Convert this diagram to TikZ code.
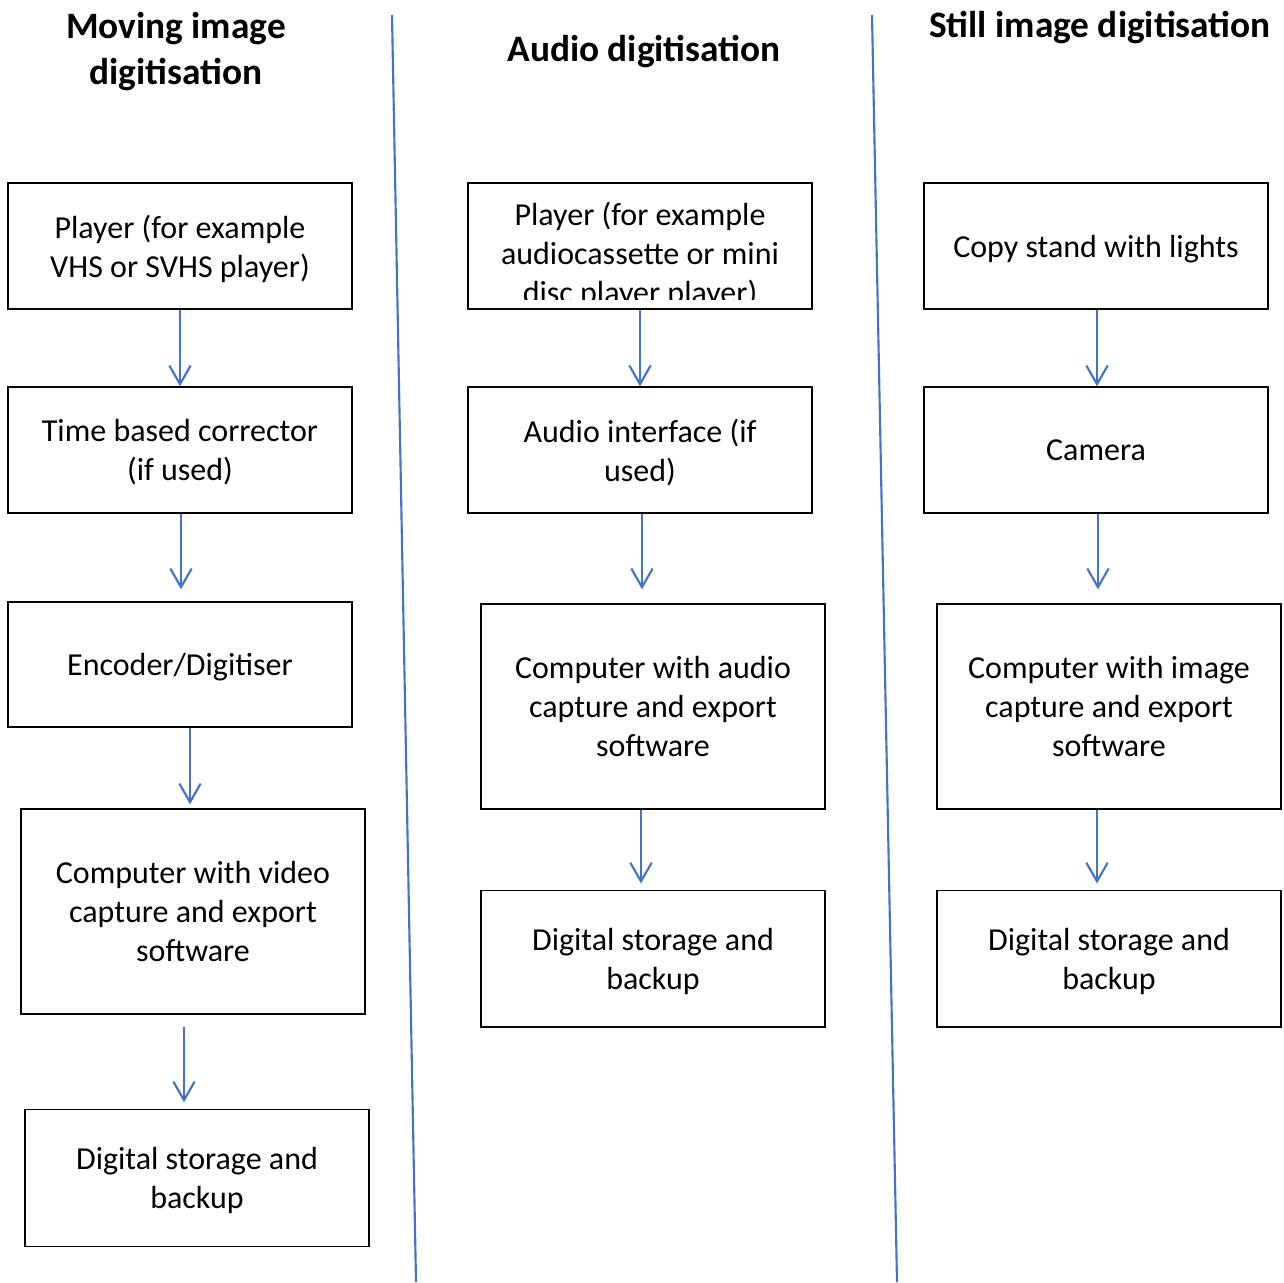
\documentclass[tikz,border=0pt]{standalone}
\usepackage{fontspec}
\setmainfont{Carlito}
\usepackage{xcolor}
\definecolor{flow-blue}{HTML}{4472C4}
\usepackage{tikz}
\usetikzlibrary{
  arrows.meta,
  positioning,
  calc
}

\begin{document}
\begin{tikzpicture}[
    x=0.75pt, y=-0.75pt,
    stage/.style={
      rectangle,
      draw=black,
      line width=1pt,
      minimum width=258pt,
      minimum height=94.5pt,
      inner sep=0pt,
      text depth=0pt,
      font=\fontsize{24}{29.25}\selectfont,
      text=black,
      align=center
    },
    tall/.style={minimum height=153.75pt},
    low/.style={minimum height=102.5pt},
    heading/.style={
      font=\fontsize{28}{34.5}\selectfont\bfseries,
      align=center
    },
    flow/.style={
      -{Straight Barb[length=14pt, width=16pt, line width=1.6pt]},
      line width=1.6pt,
      color=flow-blue
    },
    divider/.style={
      line width=1.6pt,
      color=flow-blue
    }
  ]
    \useasboundingbox (0,0) rectangle (1284,1282);

    % Column headings
    \node[heading] (hmov) at (176,52)  {Moving image\\digitisation};
    \node[heading] (haud) at (644,52)  {Audio digitisation};
    \node[heading] (hsti) at (1100,28) {Still image digitisation};

    % Dividing lines
    \draw[divider] (392,15) -- (416,1282);
    \draw[divider] (872,15) -- (897,1282);

    % Moving image chain
    \node[stage] (mplay) at (180,246)   {Player (for example\\VHS or SVHS player)};
    \node[stage] (mtbc)  at (180,450)   {Time based corrector\\(if used)};
    \node[stage, minimum height=93.75pt] (menc) at (180,664.5) {Encoder/Digitiser};
    \node[stage, tall] (mcomp) at (193,911.5) {Computer with video\\capture and export\\software};
    \node[stage, low]  (mstore) at (197,1178) {Digital storage and\\backup};

    % Audio chain (player text runs out of its box)
    \node[stage, path picture={
        \clip (path picture bounding box.north west)
          rectangle ([yshift=7pt]path picture bounding box.south east);
        \node[align=center, font=\fontsize{24}{29.25}\selectfont]
          at ([yshift=-4.75pt]path picture bounding box.center)
          {Player (for example\\audiocassette or mini\\disc player player)};
      }] (aplay) at (640,246) {};
    \node[stage] (aint) at (640,450) {Audio interface (if\\used)};
    \node[stage, tall] (acomp) at (653,706.5) {Computer with audio\\capture and export\\software};
    \node[stage, low]  (astore) at (653,958.5) {Digital storage and\\backup};

    % Still image chain
    \node[stage] (scopy) at (1096,246) {Copy stand with lights};
    \node[stage] (scam)  at (1096,450) {Camera};
    \node[stage, tall] (scomp) at (1109,706.5) {Computer with image\\capture and export\\software};
    \node[stage, low]  (sstore) at (1109,958.5) {Digital storage and\\backup};

    % Arrows down each chain
    \draw[flow] (mplay.south) -- (mplay.south |- mtbc.north);
    \draw[flow, shorten >=9pt] ([xshift=0.75pt]mtbc.south) -- ([xshift=0.75pt]mtbc.south |- menc.north);
    \draw[flow, shorten >=3pt] ([xshift=7.5pt]menc.south) -- ([xshift=7.5pt]menc.south |- mcomp.north);
    \draw[flow, shorten <=9pt, shorten >=5pt] ([xshift=-6.75pt]mcomp.south) -- ([xshift=-6.75pt]mcomp.south |- mstore.north);

    \draw[flow] (aplay.south) -- (aplay.south |- aint.north);
    \draw[flow, shorten >=10.5pt] ([xshift=1.5pt]aint.south) -- ([xshift=1.5pt]aint.south |- acomp.north);
    \draw[flow, shorten >=4.5pt] ([xshift=-9pt]acomp.south) -- ([xshift=-9pt]acomp.south |- astore.north);

    \draw[flow] ([xshift=0.75pt]scopy.south) -- ([xshift=0.75pt]scopy.south |- scam.north);
    \draw[flow, shorten >=10.5pt] ([xshift=1.5pt]scam.south) -- ([xshift=1.5pt]scam.south |- scomp.north);
    \draw[flow, shorten >=4.5pt] ([xshift=-9pt]scomp.south) -- ([xshift=-9pt]scomp.south |- sstore.north);
  \end{tikzpicture}
\end{document}
